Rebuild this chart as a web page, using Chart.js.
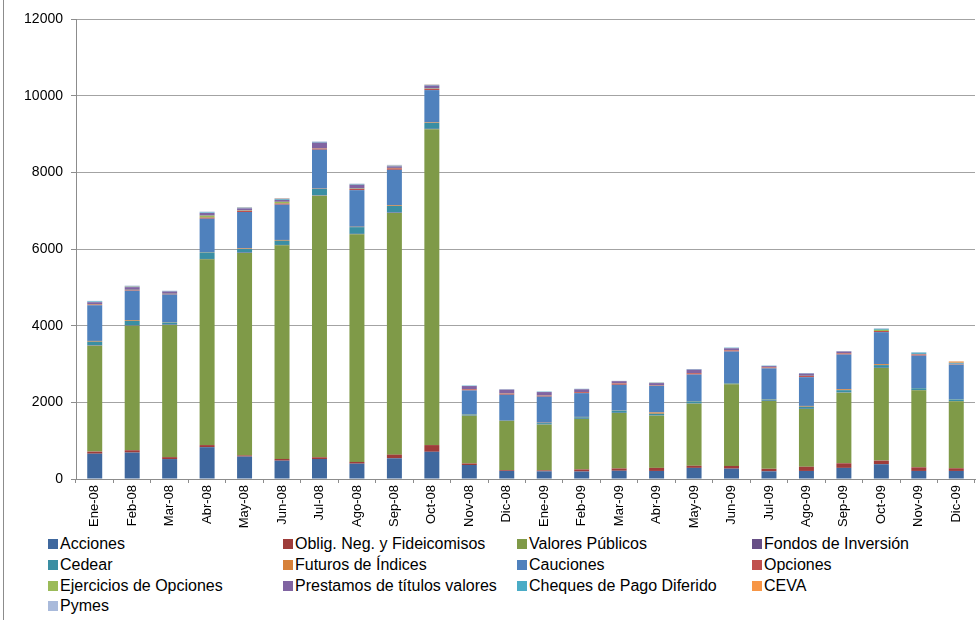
<!DOCTYPE html>
<html>
<head>
<meta charset="utf-8">
<script src="https://cdn.jsdelivr.net/npm/chart.js@4.4.0/dist/chart.umd.min.js"></script>
<style>
  html, body { margin: 0; padding: 0; background: #fff; }
  body { width: 977px; height: 620px; position: relative; overflow: hidden; font-family: "Liberation Sans", Arial, sans-serif; }
  #frame { position: absolute; left: 3px; top: 0; width: 1px; height: 620px; background: #8c8c8c; }
  #wrap { position: absolute; left: 0; top: 0; width: 977px; height: 530px; }
  #legend { position: absolute; left: 48px; top: 534px; display: grid; grid-template-columns: 235px 234px 235px 220px; grid-auto-rows: 20.7px; font-size: 16px; color: #000; }
  #legend .item { display: flex; align-items: center; white-space: nowrap; }
  #legend .box { width: 10px; height: 10px; margin-right: 2px; flex: none; }
</style>
</head>
<body>
<div id="frame"></div>
<div id="wrap"><canvas id="chart"></canvas></div>
<div id="legend"></div>
<script>
// Meses
const meses = ['Ene-08', 'Feb-08', 'Mar-08', 'Abr-08', 'May-08', 'Jun-08', 'Jul-08', 'Ago-08', 'Sep-08', 'Oct-08', 'Nov-08', 'Dic-08',
               'Ene-09', 'Feb-09', 'Mar-09', 'Abr-09', 'May-09', 'Jun-09', 'Jul-09', 'Ago-09', 'Sep-09', 'Oct-09', 'Nov-09', 'Dic-09'];

// Volumen por instrumento
const acciones    = [660, 690, 520, 830, 585, 478, 522, 400, 540, 710, 365, 210, 200, 195, 215, 210, 290, 270, 200, 210, 290, 385, 210, 210];
const oblig       = [55, 60, 50, 55, 30, 45, 45, 45, 95, 175, 40, 20, 25, 55, 60, 80, 55, 70, 65, 110, 120, 95, 95, 70];
const valoresPub  = [2762, 3250, 3447, 4845, 5280, 5573, 6825, 5940, 6305, 8240, 1245, 1283, 1193, 1315, 1447, 1362, 1620, 2130, 1770, 1506, 1842, 2416, 2008, 1746];
const fondos      = [10, 10, 10, 10, 10, 10, 10, 10, 10, 10, 5, 5, 5, 5, 5, 5, 5, 5, 5, 5, 5, 5, 5, 5];
const cedear      = [95, 115, 55, 170, 95, 110, 165, 175, 175, 155, 30, 15, 35, 40, 55, 45, 55, 20, 35, 55, 60, 70, 50, 45];
const futuros     = [20, 20, 10, 10, 15, 20, 8, 10, 20, 15, 10, 5, 10, 10, 5, 35, 10, 10, 10, 20, 25, 25, 5, 5];
const cauciones   = [930, 765, 720, 870, 950, 920, 1015, 955, 920, 840, 615, 660, 680, 620, 670, 690, 690, 820, 800, 750, 905, 835, 845, 900];
const opciones    = [20, 15, 15, 30, 30, 30, 30, 30, 40, 30, 30, 30, 25, 25, 35, 10, 35, 30, 25, 30, 30, 30, 30, 10];
const ejercicios  = [10, 10, 5, 50, 10, 45, 5, 10, 10, 10, 5, 5, 5, 5, 5, 5, 5, 5, 5, 5, 5, 30, 5, 5];
const prestamos   = [50, 70, 60, 70, 55, 50, 150, 100, 40, 80, 80, 100, 90, 70, 55, 60, 90, 50, 30, 60, 45, 0, 10, 10];
const cheques     = [20, 15, 10, 15, 15, 20, 15, 15, 15, 15, 10, 5, 10, 10, 5, 10, 10, 15, 10, 10, 5, 25, 35, 25];
const ceva        = [0, 10, 0, 0, 5, 10, 0, 5, 5, 5, 0, 0, 0, 0, 0, 5, 0, 0, 0, 0, 0, 0, 0, 35];
const pymes       = [15, 15, 10, 20, 15, 20, 15, 10, 20, 10, 5, 5, 5, 5, 5, 5, 5, 5, 5, 5, 5, 15, 10, 5];

const yTicks = [0, 2000, 4000, 6000, 8000, 10000, 12000];

const series = [
  ['Acciones', acciones, '#3F689E'],
  ['Oblig. Neg. y Fideicomisos', oblig, '#9E3C3A'],
  ['Valores Públicos', valoresPub, '#7F9A48'],
  ['Fondos de Inversión', fondos, '#674F86'],
  ['Cedear', cedear, '#3A8EA3'],
  ['Futuros de Índices', futuros, '#D6813A'],
  ['Cauciones', cauciones, '#4F81BD'],
  ['Opciones', opciones, '#C0504D'],
  ['Ejercicios de Opciones', ejercicios, '#9BBB59'],
  ['Prestamos de títulos valores', prestamos, '#8064A2'],
  ['Cheques de Pago Diferido', cheques, '#4BACC6'],
  ['CEVA', ceva, '#F79646'],
  ['Pymes', pymes, '#A9BADB']
];

const datasets = series.map(([label, data, color]) => ({
  label: label,
  data: data,
  backgroundColor: color,
  borderWidth: 0,
  barPercentage: 0.4,
  categoryPercentage: 1.0
}));

const chart = new Chart(document.getElementById('chart').getContext('2d'), {
  type: 'bar',
  data: { labels: meses, datasets: datasets },
  options: {
    responsive: true,
    maintainAspectRatio: false,
    animation: false,
    layout: { padding: { top: 19, right: 2, left: 0, bottom: 0 } },
    plugins: {
      legend: { display: false },
      tooltip: { enabled: false }
    },
    scales: {
      x: {
        stacked: true,
        grid: { display: true, drawOnChartArea: false, drawTicks: true, tickLength: 4, color: '#8c8c8c', offset: true },
        border: { display: true, color: '#8c8c8c', width: 1 },
        ticks: {
          color: '#000',
          font: { family: '"Liberation Sans", Arial, sans-serif', size: 13 },
          minRotation: 90,
          maxRotation: 90,
          autoSkip: false,
          padding: 2
        },
        afterFit: function(scale) { scale.height = 51; }
      },
      y: {
        stacked: true,
        min: 0,
        max: 12000,
        afterBuildTicks: function(scale) { scale.ticks = yTicks.map(v => ({ value: v })); },
        grid: { color: '#a3a3a3', lineWidth: 1, drawTicks: true, tickLength: 5, tickColor: '#8c8c8c' },
        border: { display: true, color: '#8c8c8c', width: 1 },
        ticks: {
          color: '#000',
          font: { family: '"Liberation Sans", Arial, sans-serif', size: 14 },
          padding: 8,
          callback: function(value) { return String(value); }
        },
        afterFit: function(scale) { scale.width = 76; }
      }
    }
  }
});

// Leyenda en cuatro columnas
const legendEl = document.getElementById('legend');
series.forEach(([label, , color]) => {
  const item = document.createElement('div');
  item.className = 'item';
  const box = document.createElement('span');
  box.className = 'box';
  box.style.background = color;
  const txt = document.createElement('span');
  txt.textContent = label;
  item.appendChild(box);
  item.appendChild(txt);
  legendEl.appendChild(item);
});
</script>
</body>
</html>
